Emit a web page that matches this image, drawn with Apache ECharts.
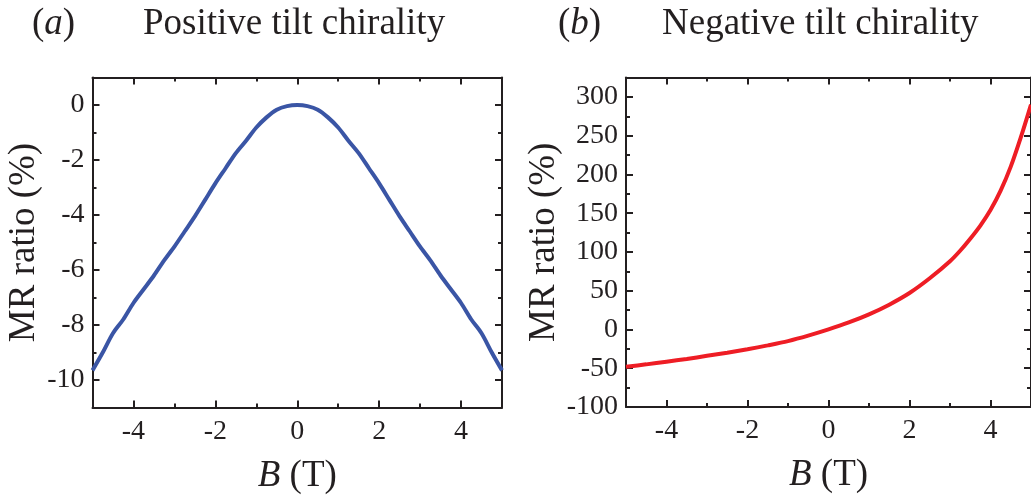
<!DOCTYPE html>
<html>
<head>
<meta charset="utf-8">
<script src="https://cdn.jsdelivr.net/npm/echarts@6/dist/echarts.min.js"></script>
<style>
html,body{margin:0;padding:0;background:#fff;}
#chart{width:1031px;height:500px;}
</style>
</head>
<body>
<div id="chart"></div>
<script>
// ---- data ----
const fieldA = [-5,-4.75,-4.5,-4.25,-4,-3.75,-3.5,-3.25,-3,-2.75,-2.5,-2.25,-2,-1.75,-1.5,-1.25,-1,-0.75,-0.5,-0.25,0,0.25,0.5,0.75,1,1.25,1.5,1.75,2,2.25,2.5,2.75,3,3.25,3.5,3.75,4,4.25,4.5,4.75,5];
const mrPositive = [-9.65,-9.0,-8.3,-7.8,-7.2,-6.7,-6.2,-5.65,-5.15,-4.6,-4.05,-3.45,-2.85,-2.3,-1.75,-1.3,-0.82,-0.45,-0.17,-0.04,0,-0.04,-0.17,-0.45,-0.82,-1.3,-1.75,-2.3,-2.85,-3.45,-4.05,-4.6,-5.15,-5.65,-6.2,-6.7,-7.2,-7.8,-8.3,-9.0,-9.65];
const fieldB = [-5,-4.5,-4,-3.5,-3,-2.5,-2,-1.5,-1,-0.5,0,0.5,1,1.5,2,2.5,3,3.25,3.5,3.75,4,4.25,4.5,4.75,5];
const mrNegative = [-48,-45,-41.5,-38,-34,-30,-25.5,-20.5,-15,-8,0,9,19.5,32,47,66,88,101.5,117,134,154,179,210,248,290];
const xMajorTicks = [-4,-2,0,2,4];
const xMinorTicks = [-3,-1,1,3];
const yMajorTicksA = [-10,-8,-6,-4,-2,0];
const yMinorTicksA = [-9,-7,-5,-3,-1];
const yMajorTicksB = [-100,-50,0,50,100,150,200,250,300];
const yMinorTicksB = [-75,-25,25,75,125,175,225,275];

const FONT = 'Liberation Serif';
const INK = '#231f20';
const lineSty = {color: INK, width: 2};

function xAxes(grid, name) {
  const base = {gridIndex: grid, type: 'value', min: -5, max: 5, splitLine: {show: false}};
  return [
    Object.assign({}, base, {
      position: 'bottom',
      axisLine: {show: true, onZero: false, lineStyle: lineSty},
      axisTick: {show: true, inside: true, length: 7, customValues: xMajorTicks, lineStyle: lineSty},
      axisLabel: {show: true, customValues: xMajorTicks, margin: 10, fontFamily: FONT, fontSize: 28, color: INK},
      name: name, nameLocation: 'middle', nameGap: 50,
      nameTextStyle: {fontFamily: FONT, fontSize: 37, color: INK,
        rich: {i: {fontFamily: FONT, fontSize: 37, fontStyle: 'italic', color: INK}}}
    }),
    Object.assign({}, base, {
      position: 'bottom',
      axisLine: {show: false, onZero: false},
      axisTick: {show: true, inside: true, length: 4, customValues: xMinorTicks, lineStyle: lineSty},
      axisLabel: {show: false}
    }),
    Object.assign({}, base, {
      position: 'top',
      axisLine: {show: true, onZero: false, lineStyle: lineSty},
      axisTick: {show: true, inside: true, length: 7, customValues: xMajorTicks, lineStyle: lineSty},
      axisLabel: {show: false}
    }),
    Object.assign({}, base, {
      position: 'top',
      axisLine: {show: false, onZero: false},
      axisTick: {show: true, inside: true, length: 4, customValues: xMinorTicks, lineStyle: lineSty},
      axisLabel: {show: false}
    })
  ];
}

function yAxes(grid, min, max, major, minor, gap) {
  const base = {gridIndex: grid, type: 'value', min: min, max: max, splitLine: {show: false}};
  return [
    Object.assign({}, base, {
      position: 'left',
      axisLine: {show: true, onZero: false, lineStyle: lineSty},
      axisTick: {show: true, inside: true, length: 7, customValues: major, lineStyle: lineSty},
      axisLabel: {show: true, customValues: major, margin: 8, fontFamily: FONT, fontSize: 28, color: INK},
      name: 'MR ratio (%)', nameLocation: 'middle', nameGap: gap,
      nameTextStyle: {fontFamily: FONT, fontSize: 37, color: INK}
    }),
    Object.assign({}, base, {
      position: 'left',
      axisLine: {show: false, onZero: false},
      axisTick: {show: true, inside: true, length: 4, customValues: minor, lineStyle: lineSty},
      axisLabel: {show: false}
    }),
    Object.assign({}, base, {
      position: 'right',
      axisLine: {show: true, onZero: false, lineStyle: lineSty},
      axisTick: {show: true, inside: true, length: 7, customValues: major, lineStyle: lineSty},
      axisLabel: {show: false}
    }),
    Object.assign({}, base, {
      position: 'right',
      axisLine: {show: false, onZero: false},
      axisTick: {show: true, inside: true, length: 4, customValues: minor, lineStyle: lineSty},
      axisLabel: {show: false}
    })
  ];
}

const xName = '{i|B} (T)';
const titleStyle = {fontFamily: FONT, fontSize: 37, fontWeight: 'normal', color: INK,
  rich: {i: {fontFamily: FONT, fontSize: 37, fontStyle: 'italic', color: INK}}};

const chart = echarts.init(document.getElementById('chart'), null, {renderer: 'canvas'});
chart.setOption({
  animation: false,
  backgroundColor: '#ffffff',
  title: [
    {text: '({i|a})', left: 32, top: 6, padding: 0, textStyle: titleStyle},
    {text: 'Positive tilt chirality', left: 143, top: 6, padding: 0, textStyle: titleStyle},
    {text: '({i|b})', left: 558, top: 6, padding: 0, textStyle: titleStyle},
    {text: 'Negative tilt chirality', left: 662, top: 6, padding: 0, textStyle: titleStyle}
  ],
  grid: [
    {left: 92.5, top: 77.5, width: 409.5, height: 330},
    {left: 626, top: 77.5, width: 408, height: 329.5}
  ],
  xAxis: [].concat(xAxes(0, xName), xAxes(1, xName)),
  yAxis: [].concat(
    yAxes(0, -11, 1, yMajorTicksA, yMinorTicksA, 43),
    yAxes(1, -100, 325, yMajorTicksB, yMinorTicksB, 60)
  ),
  series: [
    {type: 'line', xAxisIndex: 0, yAxisIndex: 0, showSymbol: false, smooth: 0.3,
     data: fieldA.map((b, i) => [b, mrPositive[i]]),
     lineStyle: {color: '#3a55a5', width: 4}, clip: true},
    {type: 'line', xAxisIndex: 4, yAxisIndex: 4, showSymbol: false, smooth: 0.3,
     data: fieldB.map((b, i) => [b, mrNegative[i]]),
     lineStyle: {color: '#ee1d25', width: 4}, clip: true}
  ]
});
</script>
</body>
</html>
